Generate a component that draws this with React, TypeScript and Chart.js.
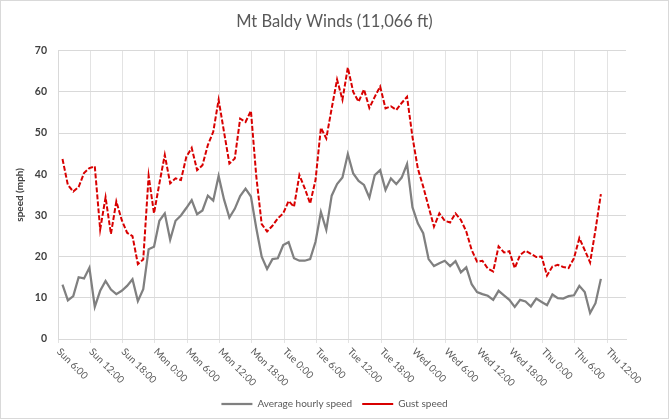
import React, { useEffect, useRef } from "react";
import { Chart, registerables } from "chart.js";

Chart.register(...registerables);

// X-axis tick labels, one every 6 hours starting Sun 6:00
const tickLabels = [
  "Sun 6:00", "Sun 12:00", "Sun 18:00",
  "Mon 0:00", "Mon 6:00", "Mon 12:00", "Mon 18:00",
  "Tue 0:00", "Tue 6:00", "Tue 12:00", "Tue 18:00",
  "Wed 0:00", "Wed 6:00", "Wed 12:00", "Wed 18:00",
  "Thu 0:00", "Thu 6:00", "Thu 12:00",
];

// Hourly observations, first one at Sun 6:50
const firstObsHour = 50 / 60;
const axisEndHour = 105.5;

const avgSpeed = [
  13.2, 9.4, 10.4, 15.0, 14.7, 17.3, 7.8, 11.7, 14.1, 12.0,
  10.9, 11.7, 12.9, 14.5, 9.2, 12.1, 21.8, 22.4, 28.7, 30.5,
  24.1, 28.7, 30.0, 31.8, 33.7, 30.3, 31.2, 34.8, 33.6, 39.6,
  33.9, 29.5, 31.6, 34.7, 36.5, 34.6, 26.9, 20.0, 17.0, 19.4,
  19.6, 22.8, 23.5, 19.6, 19.0, 19.0, 19.4, 23.6, 30.8, 26.5,
  34.8, 37.6, 39.2, 44.9, 40.2, 38.4, 37.4, 34.3, 39.8, 41.0,
  36.2, 39.0, 37.6, 39.2, 42.5, 32.0, 28.1, 25.7, 19.4, 17.7,
  18.4, 19.0, 17.7, 18.9, 16.2, 17.4, 13.3, 11.4, 10.9, 10.5,
  9.5, 11.7, 10.6, 9.5, 7.8, 9.5, 9.1, 7.9, 9.8, 9.0,
  8.2, 10.8, 9.9, 9.8, 10.4, 10.6, 12.9, 11.4, 6.3, 8.7,
  14.6,
];

const gustSpeed = [
  43.7, 37.4, 35.8, 36.9, 40.3, 41.5, 41.9, 26.6, 34.4, 25.5,
  33.4, 28.9, 25.8, 25.0, 18.2, 19.3, 39.6, 30.5, 37.8, 44.7,
  37.8, 39.0, 38.6, 44.2, 46.4, 41.0, 42.2, 47.1, 50.3, 58.1,
  50.3, 42.6, 43.8, 53.5, 52.7, 55.4, 39.4, 27.9, 26.1, 27.5,
  29.3, 30.5, 33.5, 32.1, 39.8, 36.6, 32.9, 38.6, 51.3, 48.7,
  56.0, 63.0, 58.1, 65.9, 60.0, 57.6, 60.6, 56.1, 58.8, 61.3,
  56.0, 56.5, 55.6, 57.3, 58.8, 49.1, 41.4, 37.0, 32.1, 27.3,
  30.5, 28.7, 28.3, 30.5, 28.9, 26.1, 21.6, 18.8, 19.0, 17.1,
  16.4, 22.5, 21.0, 21.3, 17.2, 20.4, 21.4, 20.7, 19.9, 20.0,
  15.4, 17.6, 18.0, 17.5, 17.2, 19.6, 24.5, 21.6, 18.6, 26.5,
  35.2,
];

const FONT = "Lato, 'Open Sans', sans-serif";

export default function App() {
  const ref = useRef<HTMLCanvasElement>(null);

  useEffect(() => {
    document.body.style.margin = "0";
    const canvas = ref.current;
    if (!canvas) return;
    const toPts = (arr: number[]) => arr.map((v, i) => ({ x: firstObsHour + i, y: v }));

    const framePlugin = {
      id: "frame",
      beforeDraw(chart: any) {
        const { ctx, width, height } = chart;
        ctx.save();
        ctx.fillStyle = "#ffffff";
        ctx.fillRect(0, 0, width, height);
        ctx.strokeStyle = "#d9d9d9";
        ctx.lineWidth = 1;
        ctx.strokeRect(0.5, 0.5, width - 1, height - 1);
        ctx.restore();
      },
      afterDraw(chart: any) {
        const { ctx } = chart;
        const xs = chart.scales.x;
        ctx.save();
        ctx.font = `10px ${FONT}`;
        ctx.fillStyle = "#595959";
        ctx.textAlign = "left";
        ctx.textBaseline = "middle";
        xs.ticks.forEach((t: any) => {
          const idx = Math.round(t.value / 6);
          const label = tickLabels[idx];
          if (label === undefined) return;
          const px = xs.getPixelForValue(t.value);
          ctx.save();
          ctx.translate(px + 0.5, xs.top + 11);
          ctx.rotate(Math.PI / 4);
          ctx.fillText(label, 0, 0);
          ctx.restore();
        });
        ctx.restore();
      },
    };

    const chart = new Chart(canvas, {
      type: "line",
      data: {
        datasets: [
          {
            label: "Average hourly speed",
            data: toPts(avgSpeed),
            borderColor: "#808080",
            backgroundColor: "#808080",
            borderWidth: 2.25,
            pointRadius: 0,
            tension: 0,
          },
          {
            label: "Gust speed",
            data: toPts(gustSpeed),
            borderColor: "#d80000",
            backgroundColor: "#d80000",
            borderWidth: 2,
            borderDash: [5, 2],
            pointRadius: 0,
            tension: 0,
          },
        ],
      },
      options: {
        animation: false,
        responsive: false,
        maintainAspectRatio: false,
        layout: { padding: { left: 0, right: 0, top: 0, bottom: 0 } },
        plugins: {
          title: {
            display: true,
            text: "Mt Baldy Winds (11,066 ft)",
            color: "#595959",
            font: { family: FONT, size: 16.5, weight: "normal" },
            padding: { top: 12, bottom: 18.9 },
          },
          legend: {
            position: "bottom",
            labels: {
              usePointStyle: true,
              pointStyle: "line",
              pointStyleWidth: 31,
              color: "#595959",
              font: { family: FONT, size: 10 },
              padding: 10,
            },
          },
          tooltip: { enabled: false },
        },
        scales: {
          x: {
            type: "linear",
            min: 0,
            max: axisEndHour,
            ticks: { stepSize: 6, includeBounds: false, display: false },
            grid: { color: "#e3e3e3", tickLength: 4, drawTicks: true },
            border: { color: "#d9d9d9" },
            afterFit: (s: any) => {
              s.height = 50;
            },
          },
          y: {
            min: 0,
            max: 70,
            ticks: {
              stepSize: 10,
              color: "#404040",
              font: { family: FONT, size: 10.5, weight: "bold" },
              padding: 11,
            },
            grid: { color: "#d9d9d9", drawTicks: false },
            border: { color: "#d9d9d9" },
            title: {
              display: true,
              text: "speed (mph)",
              color: "#404040",
              font: { family: FONT, size: 10, weight: "bold" },
              padding: { top: 14, bottom: 0 },
            },
            afterFit: (s: any) => {
              s.width = 58;
            },
          },
          yRightSpace: {
            type: "linear",
            position: "right",
            min: 0,
            max: 1,
            display: true,
            ticks: { display: false },
            grid: { display: false, drawTicks: false },
            border: { display: false },
            afterFit: (s: any) => {
              s.width = 43;
            },
          },
        },
      } as any,
      plugins: [framePlugin],
    });

    return () => chart.destroy();
  }, []);

  return (
    <div style={{ position: "absolute", left: 0, top: 0, width: 669, height: 419 }}>
      <canvas ref={ref} width={669} height={419} style={{ display: "block", width: 669, height: 419 }} />
    </div>
  );
}
